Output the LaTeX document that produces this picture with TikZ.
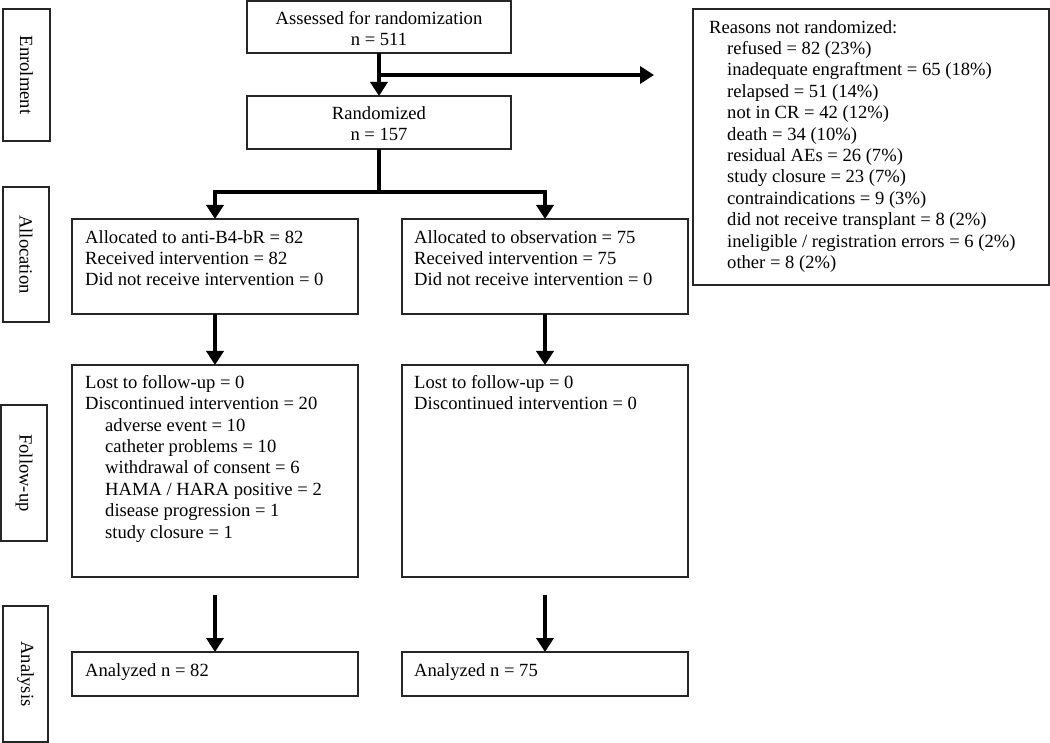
\documentclass[tikz,border=0pt]{standalone}
\usepackage{fontspec}
\setmainfont{Liberation Serif}
\usetikzlibrary{arrows.meta}
\newcommand{\mkbox}[5]{\node[box,anchor=north west,inner sep=0pt,outer sep=0pt,minimum width={(#4-#2)*1pt},minimum height={(#5-#3)*1pt}] (#1) at (#2,#3) {};}
\begin{document}
\begin{tikzpicture}[x=1pt,y=-1pt,
  font=\fontsize{18.6}{21.4}\selectfont,
  box/.style={draw=black!85,line width=1.3pt},
  txt/.style={inner sep=0pt,align=left,anchor=north west},
  ctxt/.style={inner sep=0pt,align=center,anchor=north},
  flow/.style={line width=4.5pt,-{Triangle[width=17pt,length=14pt]}},
  plainline/.style={line width=4.5pt}]
\useasboundingbox (0,0) rectangle (1050,743);
% side labels
\mkbox{s1}{3}{9}{50}{141}
\mkbox{s2}{3}{187}{49}{322}
\mkbox{s3}{1}{405}{47}{541}
\mkbox{s4}{3}{606}{48}{742}
\node[rotate=-90,inner sep=0pt] (l1) at (s1.center) {Enrolment};
\node[rotate=-90,inner sep=0pt] (l2) at (s2.center) {Allocation};
\node[rotate=-90,inner sep=0pt] (l3) at (s3.center) {Follow-up};
\node[rotate=-90,inner sep=0pt] (l4) at (s4.center) {Analysis};
% boxes
\mkbox{assess}{247}{1}{511}{53}
\mkbox{rand}{247}{96}{511}{149}
\mkbox{reasons}{693}{9}{1049}{285}
\mkbox{allocL}{72}{219}{358}{314}
\mkbox{allocR}{402}{219}{688}{314}
\mkbox{fuL}{72}{365}{358}{577}
\mkbox{fuR}{402}{365}{688}{577}
\mkbox{anL}{72}{652}{358}{696}
\mkbox{anR}{402}{652}{688}{696}
% texts
\node[ctxt] (tassess) at (379,11) {Assessed for randomization\\n = 511};
\node[ctxt] (trand) at (379,106) {Randomized\\n = 157};
\node[txt] (treasons) at (709,20) {Reasons not randomized:\\
\hspace*{18pt}refused = 82 (23\%)\\
\hspace*{18pt}inadequate engraftment = 65 (18\%)\\
\hspace*{18pt}relapsed = 51 (14\%)\\
\hspace*{18pt}not in CR = 42 (12\%)\\
\hspace*{18pt}death = 34 (10\%)\\
\hspace*{18pt}residual AEs = 26 (7\%)\\
\hspace*{18pt}study closure = 23 (7\%)\\
\hspace*{18pt}contraindications = 9 (3\%)\\
\hspace*{18pt}did not receive transplant = 8 (2\%)\\
\hspace*{18pt}ineligible / registration errors = 6 (2\%)\\
\hspace*{18pt}other = 8 (2\%)};
\node[txt] (tallocL) at (85,230) {Allocated to anti-B4-bR = 82\\Received intervention = 82\\Did not receive intervention = 0};
\node[txt] (tallocR) at (414,230) {Allocated to observation = 75\\Received intervention = 75\\Did not receive intervention = 0};
\node[txt] (tfuL) at (85,375) {Lost to follow-up = 0\\Discontinued intervention = 20\\
\hspace*{20pt}adverse event = 10\\
\hspace*{20pt}catheter problems = 10\\
\hspace*{20pt}withdrawal of consent = 6\\
\hspace*{20pt}HAMA / HARA positive = 2\\
\hspace*{20pt}disease progression = 1\\
\hspace*{20pt}study closure = 1};
\node[txt] (tfuR) at (414,375) {Lost to follow-up = 0\\Discontinued intervention = 0};
\node[txt] (tanL) at (85,663) {Analyzed n = 82};
\node[txt] (tanR) at (414,663) {Analyzed n = 75};
% connectors
\coordinate (y75) at (0,75);
\coordinate (rsn) at (654,75);
\coordinate (fork) at (379,192);
\draw[flow] (assess.south) -- (rand.north);
\draw[flow] (assess.south |- y75) -- (rsn);
\draw[plainline] (rand.south) -- (fork);
\draw[flow,line join=miter] (fork) -| (allocL.north);
\draw[flow,line join=miter] (fork) -| (allocR.north);
\draw[flow] (allocL.south) -- (fuL.north);
\draw[flow] (allocR.south) -- (fuR.north);
\draw[flow,shorten <=18pt] (fuL.south) -- (anL.north);
\draw[flow,shorten <=18pt] (fuR.south) -- (anR.north);
\end{tikzpicture}
\end{document}
